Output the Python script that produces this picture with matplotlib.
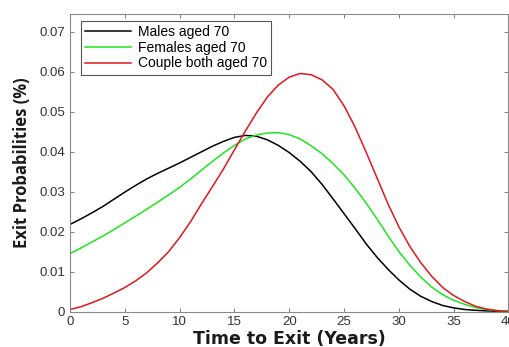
import numpy as np
import matplotlib
matplotlib.use("Agg")
import matplotlib.pyplot as plt

years = np.arange(0, 41)

males = [0.0218, 0.0232, 0.0247, 0.0263, 0.0281, 0.0299, 0.0316, 0.0332, 0.0346, 0.0359,
         0.0372, 0.0386, 0.0400, 0.0414, 0.0426, 0.0436, 0.0441, 0.0439, 0.0430, 0.0416,
         0.0398, 0.0376, 0.0350, 0.0318, 0.0282, 0.0245, 0.0208, 0.0170, 0.0136, 0.0106,
         0.0079, 0.0056, 0.0038, 0.0025, 0.0015, 0.0009, 0.0005, 0.0003, 0.00015, 0.00007,
         0.00003]

females = [0.0145, 0.0159, 0.0174, 0.0189, 0.0205, 0.0222, 0.0239, 0.0256, 0.0274, 0.0292,
           0.0311, 0.0332, 0.0354, 0.0376, 0.0397, 0.0416, 0.0432, 0.0442, 0.0447, 0.0448,
           0.0443, 0.0432, 0.0415, 0.0395, 0.0370, 0.0342, 0.0309, 0.0272, 0.0232, 0.0190,
           0.0150, 0.0116, 0.0086, 0.0061, 0.0042, 0.0028, 0.0018, 0.0010, 0.0005, 0.0002,
           0.0001]

couple = [0.0005, 0.0012, 0.0022, 0.0033, 0.0046, 0.0060, 0.0077, 0.0097, 0.0122, 0.0150,
          0.0185, 0.0225, 0.0270, 0.0313, 0.0357, 0.0405, 0.0452, 0.0497, 0.0537, 0.0567,
          0.0587, 0.0596, 0.0593, 0.0580, 0.0556, 0.0515, 0.0462, 0.0400, 0.0335, 0.0270,
          0.0212, 0.0163, 0.0122, 0.0088, 0.0060, 0.0040, 0.0025, 0.0013, 0.0006, 0.0002,
          0.0000]

labels = ["Males aged 70", "Females aged 70", "Couple both aged 70"]
xticks = [0, 5, 10, 15, 20, 25, 30, 35, 40]
yticks = [0, 0.01, 0.02, 0.03, 0.04, 0.05, 0.06, 0.07]

fig = plt.figure(figsize=(5.1, 3.47), dpi=100)
ax = fig.add_axes([70/510, 1-311.5/347, 438.5/510, 297.5/347])

ax.plot(years, males, color="black", linewidth=1.1, label=labels[0])
ax.plot(years, females, color="#1ee61e", linewidth=1.1, label=labels[1])
ax.plot(years, couple, color="#e3161c", linewidth=1.1, label=labels[2])

ax.set_xlim(0, 40)
ax.set_ylim(0, 0.0745)
ax.set_xticks(xticks)
ax.set_xticklabels([str(t) for t in xticks])
ax.set_yticks(yticks)
ax.set_yticklabels(["0"] + ["%.2f" % t for t in yticks[1:]])

ax.tick_params(direction="in", top=True, right=True, length=3, width=0.7,
               colors="#808080", labelcolor="#333333", labelsize=9.5)
for tl in ax.get_xticklabels() + ax.get_yticklabels():
    tl.set_family("Liberation Sans")
for sp in ax.spines.values():
    sp.set_color("#8a8a8a")
    sp.set_linewidth(0.8)

ax.set_xlabel("Time to Exit (Years)", family="DejaVu Sans", fontweight="bold",
              fontsize=12.5, color="#1a1a1a", labelpad=1)
ax.set_ylabel("Exit Probabilities (%)", family="Open Sans", fontweight="bold",
              fontsize=12, color="#1a1a1a", labelpad=6)

leg = ax.legend(loc="upper left", bbox_to_anchor=(11/438.5, 1-7/297.5), borderaxespad=0,
                fancybox=False, framealpha=1, edgecolor="#555555",
                prop={"family": "Liberation Sans", "size": 10},
                handlelength=3.3, handletextpad=0.5, labelspacing=0.12,
                borderpad=0.3)
leg.get_frame().set_linewidth(0.8)

fig.savefig("out.png", dpi=100)
